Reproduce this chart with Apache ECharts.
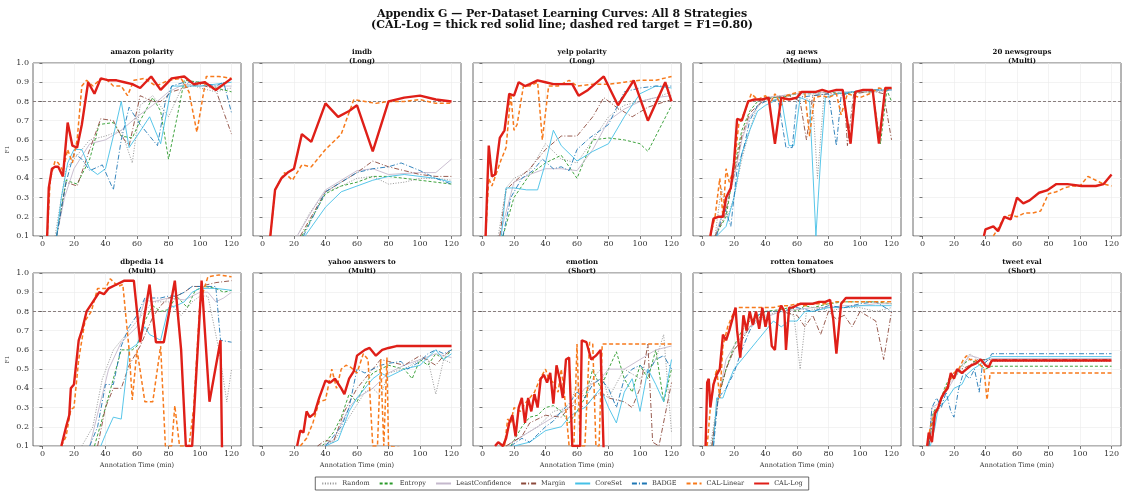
<!DOCTYPE html>
<html>
<head>
<meta charset="utf-8">
<script src="https://cdn.jsdelivr.net/npm/echarts@6/dist/echarts.min.js"></script>
<style>
  html, body { margin: 0; padding: 0; background: #fff; }
  #chart { width: 1124px; height: 492px; }
</style>
</head>
<body>
<div id="chart"></div>
<script>
// panels, left to right, top to bottom
var datasets = ['amazon polarity', 'imdb', 'yelp polarity', 'ag news', '20 newsgroups',
  'dbpedia 14', 'yahoo answers to', 'emotion', 'rotten tomatoes', 'tweet eval'];
var lengths = ['Long', 'Long', 'Long', 'Medium', 'Multi', 'Multi', 'Multi', 'Short', 'Short', 'Short'];
var xTicks = [0, 20, 40, 60, 80, 100, 120];
var target = 0.8;

// each curve is [minutes, F1], one list per panel
var randomCurves = [
  [[8,0.1],[12,0.3],[15,0.45],[20,0.5],[25,0.55],[30,0.6],[40,0.62],[50,0.65],[57,0.48],[62,0.78],[70,0.83],[80,0.72],[90,0.9],[100,0.87],[110,0.85],[120,0.87]],
  [[22,0.1],[30,0.22],[40,0.33],[50,0.36],[60,0.4],[70,0.41],[80,0.37],[90,0.38],[100,0.4],[110,0.4],[120,0.39]],
  [[10,0.1],[15,0.35],[20,0.4],[30,0.44],[40,0.58],[50,0.5],[60,0.48],[70,0.6],[80,0.72],[90,0.78],[100,0.8],[110,0.82],[120,0.85]],
  [[8,0.1],[12,0.35],[16,0.2],[20,0.3],[25,0.5],[30,0.65],[35,0.78],[40,0.82],[50,0.83],[60,0.84],[70,0.8],[73,0.4],[77,0.82],[85,0.84],[100,0.85],[110,0.85],[120,0.86]],
  [[0,0.02],[40,0.04],[80,0.06],[120,0.07]],
  [[25,0.1],[32,0.2],[38,0.45],[45,0.6],[52,0.67],[60,0.75],[70,0.85],[80,0.85],[88,0.78],[95,0.85],[100,0.88],[105,0.88],[112,0.6],[117,0.33],[120,0.5]],
  [[35,0.1],[45,0.12],[55,0.25],[65,0.38],[70,0.4],[75,0.36],[80,0.48],[90,0.5],[100,0.55],[105,0.55],[110,0.37],[115,0.55],[120,0.53]],
  [[15,0.1],[25,0.15],[35,0.2],[45,0.28],[55,0.3],[60,0.42],[65,0.35],[70,0.45],[75,0.5],[80,0.35],[90,0.5],[100,0.45],[110,0.55],[115,0.68],[120,0.17]],
  [[5,0.1],[10,0.35],[15,0.5],[20,0.6],[25,0.65],[30,0.72],[40,0.78],[50,0.8],[58,0.78],[62,0.5],[66,0.8],[75,0.82],[80,0.8],[90,0.82],[100,0.82],[110,0.8],[120,0.82]],
  [[4,0.1],[6,0.25],[8,0.3],[10,0.28],[13,0.35],[16,0.42],[20,0.45],[25,0.5],[30,0.58],[35,0.55],[40,0.52],[44,0.54],[120,0.54]]
];
var entropyCurves = [
  [[9,0.1],[15,0.39],[22,0.37],[30,0.5],[36,0.68],[45,0.69],[50,0.62],[57,0.61],[62,0.7],[70,0.82],[75,0.75],[80,0.5],[85,0.7],[90,0.91],[100,0.9],[110,0.87],[120,0.85]],
  [[25,0.1],[40,0.32],[50,0.36],[60,0.38],[70,0.41],[80,0.41],[100,0.39],[120,0.37]],
  [[13,0.1],[20,0.3],[30,0.42],[40,0.48],[50,0.52],[60,0.4],[70,0.6],[80,0.61],[90,0.6],[100,0.58],[105,0.54],[120,0.78]],
  [[8,0.1],[15,0.2],[20,0.45],[25,0.65],[30,0.75],[35,0.8],[40,0.82],[50,0.82],[60,0.84],[70,0.84],[80,0.85],[90,0.84],[100,0.85],[108,0.85],[113,0.58],[117,0.86],[120,0.8]],
  [[0,0.01],[40,0.03],[80,0.05],[120,0.06]],
  [[33,0.1],[40,0.3],[45,0.45],[50,0.6],[57,0.6],[60,0.62],[65,0.75],[70,0.83],[75,0.8],[80,0.81],[85,0.88],[92,0.82],[97,0.91],[103,0.93],[110,0.92],[115,0.9],[120,0.91]],
  [[38,0.1],[45,0.17],[50,0.25],[55,0.37],[60,0.33],[65,0.42],[70,0.48],[75,0.5],[80,0.52],[90,0.5],[95,0.45],[100,0.55],[105,0.52],[110,0.58],[115,0.55],[120,0.6]],
  [[18,0.1],[25,0.2],[30,0.25],[35,0.26],[40,0.3],[45,0.31],[50,0.28],[55,0.22],[60,0.28],[65,0.35],[70,0.5],[75,0.4],[80,0.5],[85,0.59],[90,0.45],[95,0.38],[100,0.52],[105,0.45],[110,0.6],[115,0.33],[120,0.5]],
  [[6,0.1],[10,0.35],[15,0.5],[20,0.62],[25,0.7],[30,0.75],[40,0.8],[50,0.81],[55,0.82],[60,0.8],[65,0.83],[70,0.82],[80,0.84],[90,0.85],[100,0.85],[110,0.85],[120,0.84]],
  [[4,0.1],[7,0.28],[10,0.3],[14,0.4],[18,0.47],[20,0.45],[25,0.52],[30,0.55],[35,0.53],[40,0.5],[44,0.515],[120,0.515]]
];
var leastConfCurves = [
  [[9,0.1],[14,0.3],[20,0.45],[30,0.58],[40,0.6],[50,0.65],[60,0.72],[70,0.78],[80,0.85],[90,0.89],[100,0.88],[110,0.88],[120,0.88]],
  [[22,0.1],[35,0.28],[40,0.34],[60,0.44],[70,0.45],[80,0.42],[100,0.43],[110,0.43],[120,0.5]],
  [[11,0.1],[20,0.38],[30,0.42],[40,0.45],[50,0.45],[60,0.44],[70,0.55],[80,0.7],[90,0.76],[100,0.8],[110,0.82],[120,0.83]],
  [[8,0.1],[14,0.25],[20,0.4],[25,0.6],[30,0.72],[40,0.82],[50,0.83],[60,0.84],[70,0.84],[80,0.85],[90,0.85],[100,0.85],[120,0.86]],
  [[0,0.02],[40,0.03],[80,0.05],[120,0.08]],
  [[30,0.1],[36,0.3],[42,0.5],[50,0.64],[60,0.72],[65,0.86],[70,0.85],[75,0.86],[80,0.87],[90,0.86],[100,0.9],[105,0.9],[110,0.85],[115,0.87],[120,0.9]],
  [[38,0.1],[45,0.13],[55,0.3],[60,0.35],[70,0.4],[80,0.48],[90,0.52],[100,0.55],[110,0.58],[120,0.56]],
  [[15,0.1],[25,0.15],[35,0.2],[45,0.25],[55,0.3],[65,0.4],[75,0.45],[80,0.5],[90,0.5],[100,0.55],[110,0.6],[120,0.62]],
  [[6,0.1],[10,0.35],[15,0.55],[20,0.62],[30,0.72],[40,0.77],[50,0.8],[60,0.81],[70,0.82],[80,0.82],[90,0.83],[100,0.83],[110,0.84],[120,0.84]],
  [[4,0.1],[6,0.3],[10,0.32],[15,0.38],[20,0.45],[25,0.52],[30,0.57],[35,0.56],[40,0.54],[44,0.555],[120,0.555]]
];
var marginCurves = [
  [[9,0.1],[15,0.38],[22,0.36],[30,0.55],[37,0.71],[45,0.7],[50,0.62],[55,0.57],[62,0.83],[70,0.8],[75,0.8],[82,0.85],[90,0.87],[100,0.89],[110,0.86],[120,0.63]],
  [[24,0.1],[40,0.33],[50,0.38],[60,0.43],[70,0.49],[80,0.46],[90,0.44],[100,0.42],[110,0.41],[120,0.41]],
  [[11,0.1],[15,0.34],[20,0.38],[30,0.45],[40,0.55],[50,0.62],[60,0.62],[70,0.72],[77,0.82],[85,0.77],[95,0.72],[105,0.77],[120,0.81]],
  [[8,0.1],[14,0.2],[20,0.42],[25,0.62],[30,0.74],[38,0.8],[45,0.82],[55,0.83],[62,0.8],[66,0.6],[70,0.83],[80,0.84],[90,0.84],[92,0.57],[96,0.84],[105,0.85],[110,0.85],[115,0.84],[120,0.6]],
  [[0,0.01],[40,0.02],[80,0.04],[120,0.06]],
  [[35,0.1],[40,0.3],[45,0.4],[50,0.4],[55,0.52],[62,0.62],[70,0.77],[75,0.83],[80,0.87],[85,0.88],[90,0.9],[95,0.93],[100,0.93],[110,0.95],[120,0.96]],
  [[35,0.1],[40,0.13],[45,0.12],[52,0.28],[60,0.4],[65,0.45],[70,0.5],[75,0.55],[80,0.54],[90,0.52],[100,0.57],[110,0.52],[115,0.57],[120,0.6]],
  [[15,0.1],[25,0.15],[30,0.22],[40,0.26],[50,0.25],[55,0.3],[60,0.32],[65,0.3],[70,0.35],[75,0.38],[80,0.35],[90,0.33],[95,0.3],[100,0.4],[105,0.63],[108,0.12],[112,0.1],[120,0.43]],
  [[6,0.1],[10,0.35],[15,0.5],[20,0.6],[25,0.65],[30,0.72],[40,0.8],[50,0.8],[60,0.78],[65,0.72],[70,0.78],[75,0.68],[80,0.8],[85,0.76],[90,0.78],[95,0.72],[100,0.8],[110,0.75],[115,0.55],[120,0.8]],
  [[4,0.1],[7,0.25],[10,0.3],[15,0.4],[20,0.48],[25,0.5],[30,0.52],[35,0.55],[40,0.55],[44,0.55],[120,0.55]]
];
var coresetCurves = [
  [[9,0.1],[12,0.3],[16,0.48],[20,0.55],[25,0.55],[30,0.45],[35,0.42],[40,0.45],[45,0.62],[50,0.8],[55,0.56],[60,0.62],[68,0.72],[75,0.58],[82,0.88],[90,0.88],[100,0.88],[110,0.89],[120,0.9]],
  [[27,0.1],[40,0.25],[50,0.33],[60,0.36],[70,0.39],[80,0.41],[90,0.42],[100,0.41],[110,0.4],[120,0.38]],
  [[12,0.1],[15,0.35],[20,0.35],[28,0.34],[35,0.34],[40,0.48],[45,0.65],[50,0.57],[60,0.49],[70,0.54],[80,0.58],[90,0.72],[100,0.84],[110,0.88],[120,0.87]],
  [[9,0.1],[15,0.15],[20,0.3],[25,0.53],[30,0.65],[35,0.75],[40,0.78],[45,0.8],[50,0.82],[55,0.57],[58,0.57],[62,0.82],[68,0.8],[72,0.1],[75,0.5],[78,0.82],[85,0.84],[95,0.85],[105,0.86],[120,0.86]],
  [[0,0.02],[40,0.02],[80,0.05],[120,0.07]],
  [[37,0.1],[40,0.16],[45,0.25],[50,0.24],[55,0.6],[60,0.63],[65,0.72],[68,0.68],[75,0.65],[80,0.82],[85,0.83],[90,0.85],[95,0.9],[100,0.92],[105,0.92],[110,0.92],[120,0.91]],
  [[40,0.1],[48,0.13],[55,0.28],[60,0.35],[65,0.4],[70,0.45],[75,0.48],[80,0.46],[90,0.5],[100,0.52],[110,0.6],[115,0.55],[120,0.58]],
  [[20,0.1],[30,0.12],[40,0.18],[50,0.2],[55,0.25],[60,0.28],[65,0.3],[70,0.35],[75,0.4],[80,0.3],[85,0.22],[90,0.38],[95,0.45],[100,0.28],[105,0.5],[110,0.42],[115,0.33],[120,0.55]],
  [[7,0.1],[9,0.35],[13,0.35],[16,0.42],[20,0.5],[25,0.55],[30,0.6],[35,0.65],[40,0.7],[45,0.75],[50,0.72],[55,0.75],[60,0.75],[65,0.8],[70,0.8],[80,0.82],[90,0.82],[100,0.83],[110,0.83],[120,0.83]],
  [[5,0.1],[8,0.2],[10,0.3],[13,0.32],[16,0.35],[20,0.4],[25,0.42],[28,0.47],[32,0.5],[36,0.52],[40,0.55],[44,0.565],[120,0.565]]
];
var badgeCurves = [
  [[9,0.1],[15,0.38],[20,0.53],[25,0.5],[30,0.44],[38,0.47],[45,0.34],[50,0.6],[55,0.77],[62,0.68],[68,0.62],[73,0.57],[78,0.8],[82,0.88],[90,0.9],[100,0.9],[110,0.88],[115,0.9],[120,0.74]],
  [[26,0.1],[40,0.33],[50,0.38],[60,0.43],[70,0.45],[80,0.46],[88,0.48],[100,0.44],[110,0.4],[120,0.37]],
  [[13,0.1],[18,0.3],[25,0.4],[32,0.44],[38,0.5],[45,0.45],[50,0.46],[55,0.44],[60,0.55],[68,0.61],[80,0.68],[90,0.85],[100,0.87],[110,0.88],[120,0.88]],
  [[9,0.1],[14,0.25],[18,0.15],[22,0.45],[26,0.55],[30,0.7],[35,0.78],[40,0.8],[48,0.81],[53,0.56],[57,0.56],[60,0.82],[70,0.83],[80,0.84],[85,0.57],[88,0.83],[95,0.85],[105,0.86],[120,0.86]],
  [[0,0.01],[40,0.03],[80,0.04],[120,0.05]],
  [[30,0.1],[35,0.2],[40,0.42],[45,0.42],[50,0.62],[55,0.72],[60,0.78],[65,0.87],[70,0.87],[75,0.87],[80,0.88],[85,0.88],[90,0.9],[95,0.93],[100,0.93],[105,0.93],[110,0.93],[113,0.65],[120,0.64]],
  [[40,0.1],[45,0.15],[50,0.2],[55,0.3],[60,0.5],[65,0.48],[70,0.5],[75,0.52],[80,0.53],[88,0.54],[92,0.5],[100,0.54],[105,0.58],[110,0.6],[115,0.58],[120,0.6]],
  [[18,0.1],[25,0.14],[30,0.12],[35,0.16],[40,0.2],[45,0.23],[50,0.28],[55,0.32],[60,0.38],[65,0.35],[70,0.42],[75,0.45],[80,0.4],[85,0.3],[90,0.45],[95,0.5],[100,0.52],[105,0.48],[110,0.55],[115,0.57],[120,0.5]],
  [[7,0.1],[10,0.35],[15,0.4],[20,0.48],[25,0.6],[30,0.7],[35,0.78],[40,0.8],[50,0.8],[60,0.82],[70,0.8],[80,0.83],[90,0.82],[100,0.84],[110,0.85],[120,0.8]],
  [[4,0.1],[6,0.3],[9,0.35],[12,0.3],[15,0.38],[18,0.28],[20,0.25],[23,0.4],[26,0.48],[30,0.45],[33,0.5],[36,0.38],[38,0.52],[42,0.55],[44,0.58],[120,0.58]]
];
var calLinearCurves = [
  [[3,0.1],[5,0.4],[8,0.49],[10,0.48],[13,0.44],[16,0.55],[19,0.48],[22,0.6],[25,0.88],[28,0.91],[32,0.88],[36,0.91],[40,0.92],[45,0.88],[50,0.88],[54,0.83],[58,0.91],[65,0.92],[72,0.88],[80,0.91],[88,0.92],[93,0.85],[98,0.64],[104,0.93],[112,0.93],[120,0.92]],
  [[5,0.1],[8,0.34],[14,0.43],[19,0.39],[25,0.47],[31,0.46],[40,0.55],[50,0.63],[58,0.81],[65,0.8],[72,0.79],[80,0.8],[90,0.8],[100,0.81],[110,0.79],[120,0.79]],
  [[2,0.1],[4,0.4],[6,0.36],[9,0.43],[12,0.5],[15,0.56],[18,0.84],[20,0.65],[22,0.68],[26,0.88],[30,0.88],[35,0.9],[38,0.6],[42,0.88],[48,0.88],[55,0.91],[60,0.88],[70,0.89],[80,0.89],[90,0.9],[100,0.91],[110,0.91],[120,0.93]],
  [[5,0.1],[8,0.2],[11,0.4],[13,0.2],[15,0.45],[17,0.38],[20,0.45],[23,0.68],[27,0.75],[31,0.84],[35,0.81],[40,0.83],[43,0.79],[46,0.84],[50,0.78],[53,0.83],[57,0.84],[62,0.85],[65,0.84],[68,0.62],[71,0.82],[76,0.83],[80,0.82],[85,0.84],[88,0.73],[92,0.84],[96,0.83],[100,0.82],[106,0.84],[112,0.87],[116,0.86],[120,0.87]],
  [[45,0.1],[48,0.14],[52,0.2],[56,0.21],[60,0.2],[65,0.22],[70,0.22],[75,0.23],[80,0.32],[85,0.33],[90,0.35],[95,0.36],[100,0.36],[105,0.41],[110,0.39],[115,0.37],[120,0.36]],
  [[12,0.1],[15,0.15],[18,0.29],[20,0.3],[23,0.55],[27,0.75],[31,0.8],[35,0.92],[40,0.92],[43,0.97],[48,0.93],[51,0.94],[55,0.6],[57,0.34],[60,0.6],[65,0.33],[70,0.33],[75,0.62],[78,0.1],[82,0.1],[84,0.31],[87,0.1],[93,0.1],[96,0.3],[100,0.85],[105,0.98],[112,0.99],[120,0.98]],
  [[24,0.1],[28,0.14],[32,0.22],[36,0.33],[40,0.34],[44,0.5],[47,0.4],[50,0.5],[53,0.52],[56,0.51],[60,0.48],[64,0.58],[67,0.55],[70,0.1],[73,0.1],[75,0.55],[77,0.1],[79,0.56],[80,0.1],[120,0.05]],
  [[14,0.1],[16,0.24],[18,0.22],[20,0.3],[24,0.28],[27,0.32],[30,0.35],[33,0.38],[36,0.44],[38,0.47],[40,0.5],[42,0.45],[45,0.43],[48,0.38],[50,0.5],[52,0.37],[55,0.1],[58,0.1],[60,0.63],[62,0.1],[65,0.1],[68,0.64],[70,0.63],[72,0.1],[74,0.1],[76,0.63],[80,0.63],[90,0.63],[100,0.63],[110,0.63],[120,0.63]],
  [[3,0.1],[5,0.3],[7,0.42],[9,0.5],[11,0.35],[13,0.62],[16,0.72],[19,0.78],[22,0.82],[25,0.82],[30,0.82],[35,0.82],[40,0.82],[45,0.82],[50,0.83],[55,0.83],[60,0.84],[65,0.83],[70,0.84],[75,0.84],[80,0.84],[85,0.85],[90,0.85],[100,0.85],[110,0.85],[120,0.85]],
  [[3,0.1],[5,0.2],[8,0.28],[10,0.3],[12,0.35],[15,0.4],[18,0.45],[20,0.48],[23,0.5],[26,0.55],[28,0.57],[30,0.55],[33,0.55],[36,0.53],[39,0.5],[41,0.34],[43,0.48],[44,0.48],[60,0.48],[80,0.48],[100,0.48],[120,0.48]]
];
var calLogCurves = [
  [[3,0.1],[4,0.35],[6,0.45],[8,0.46],[10,0.46],[13,0.41],[16,0.69],[19,0.57],[22,0.56],[25,0.68],[29,0.9],[33,0.84],[37,0.92],[42,0.91],[47,0.91],[52,0.9],[57,0.89],[62,0.87],[69,0.93],[75,0.86],[82,0.92],[90,0.93],[96,0.89],[103,0.9],[110,0.86],[120,0.92]],
  [[5,0.1],[8,0.34],[12,0.4],[16,0.43],[20,0.45],[25,0.63],[31,0.59],[40,0.79],[48,0.72],[55,0.75],[60,0.78],[70,0.54],[80,0.8],[90,0.82],[100,0.83],[110,0.81],[120,0.8]],
  [[2,0.1],[4,0.57],[6,0.41],[8,0.42],[11,0.61],[14,0.65],[17,0.84],[20,0.83],[23,0.9],[27,0.88],[30,0.89],[35,0.91],[40,0.9],[45,0.89],[52,0.89],[57,0.89],[61,0.83],[67,0.86],[77,0.93],[86,0.78],[96,0.91],[105,0.7],[116,0.9],[120,0.8]],
  [[5,0.1],[7,0.19],[10,0.2],[13,0.2],[15,0.3],[18,0.35],[20,0.48],[22,0.71],[25,0.7],[29,0.8],[33,0.81],[38,0.81],[42,0.82],[46,0.58],[50,0.82],[55,0.81],[60,0.82],[63,0.85],[67,0.85],[72,0.85],[76,0.86],[80,0.85],[85,0.86],[89,0.86],[94,0.58],[97,0.85],[102,0.86],[108,0.86],[112,0.58],[116,0.87],[120,0.87]],
  [[39,0.1],[40,0.135],[45,0.15],[48,0.125],[52,0.2],[56,0.186],[60,0.3],[64,0.27],[68,0.285],[74,0.325],[79,0.337],[85,0.37],[92,0.37],[101,0.36],[110,0.36],[115,0.37],[120,0.42]],
  [[12,0.1],[15,0.2],[17,0.26],[18,0.4],[20,0.42],[21,0.41],[23,0.65],[25,0.7],[28,0.8],[32,0.85],[36,0.9],[39,0.89],[42,0.92],[47,0.94],[52,0.96],[58,0.96],[62,0.64],[68,0.94],[72,0.64],[77,0.64],[84,0.96],[88,0.6],[91,0.1],[95,0.1],[101,0.96],[106,0.33],[113,0.65],[114,0.05]],
  [[22,0.1],[24,0.18],[26,0.17],[28,0.28],[30,0.25],[33,0.27],[36,0.35],[40,0.44],[43,0.43],[46,0.45],[50,0.4],[52,0.37],[55,0.45],[58,0.49],[60,0.57],[65,0.6],[68,0.61],[72,0.57],[76,0.6],[80,0.61],[85,0.62],[90,0.62],[100,0.62],[110,0.62],[120,0.62]],
  [[8,0.1],[10,0.12],[13,0.1],[15,0.14],[17,0.22],[19,0.26],[21,0.15],[23,0.3],[25,0.35],[27,0.22],[29,0.35],[31,0.28],[33,0.37],[35,0.3],[37,0.45],[39,0.47],[41,0.43],[43,0.48],[45,0.32],[47,0.52],[49,0.45],[51,0.35],[53,0.55],[55,0.56],[57,0.1],[62,0.1],[63,0.65],[66,0.64],[69,0.55],[72,0.57],[75,0.6],[77,0.05]],
  [[2,0.1],[3,0.43],[4,0.45],[5,0.3],[7,0.42],[9,0.47],[11,0.5],[13,0.68],[15,0.65],[17,0.7],[19,0.76],[21,0.82],[22,0.7],[24,0.56],[26,0.78],[28,0.7],[30,0.8],[32,0.73],[34,0.8],[36,0.71],[38,0.82],[40,0.72],[42,0.8],[44,0.62],[46,0.6],[48,0.79],[50,0.83],[52,0.8],[53,0.6],[55,0.82],[57,0.82],[62,0.84],[66,0.84],[70,0.84],[74,0.85],[78,0.85],[81,0.86],[83,0.76],[85,0.58],[88,0.84],[91,0.87],[100,0.87],[110,0.87],[120,0.87]],
  [[3,0.1],[4,0.17],[6,0.12],[8,0.27],[10,0.3],[12,0.35],[14,0.38],[16,0.4],[18,0.48],[20,0.45],[22,0.5],[25,0.48],[28,0.5],[31,0.52],[34,0.53],[37,0.55],[40,0.52],[42,0.51],[44,0.545],[60,0.545],[80,0.545],[100,0.545],[120,0.545]]
];

var strategies = [
  {name: 'Random', curves: randomCurves, color: '#8a8a8a', width: 0.9, type: [1, 1.6]},
  {name: 'Entropy', curves: entropyCurves, color: '#2a9a2a', width: 0.9, type: [3, 2]},
  {name: 'LeastConfidence', curves: leastConfCurves, color: '#c4b8cc', width: 0.9, type: 'solid'},
  {name: 'Margin', curves: marginCurves, color: '#8c4a3c', width: 0.9, type: [5, 2, 1, 2]},
  {name: 'CoreSet', curves: coresetCurves, color: '#45c0e6', width: 0.9, type: 'solid'},
  {name: 'BADGE', curves: badgeCurves, color: '#1f77b4', width: 0.9, type: [5, 2, 1, 2]},
  {name: 'CAL-Linear', curves: calLinearCurves, color: '#f77a1c', width: 1.5, type: [4, 2.5]},
  {name: 'CAL-Log', curves: calLogCurves, color: '#df1f18', width: 2.4, type: 'solid'}
];

var font = 'DejaVu Serif';
var lefts = [33, 253, 473, 693, 913];
var tops = [63, 273];
var pw = 208, ph = 173;

var grids = [], xAxes = [], yAxes = [], titles = [], series = [];
titles.push({
  text: 'Appendix G \u2014 Per-Dataset Learning Curves: All 8 Strategies\n(CAL-Log = thick red solid line; dashed red target = F1=0.80)',
  left: 'center', top: 3,
  textStyle: {fontFamily: font, fontSize: 11, fontWeight: 'bold', color: '#111', lineHeight: 11.5}
});

datasets.forEach(function (d, i) {
  var col = i % 5, row = Math.floor(i / 5);
  grids.push({left: lefts[col], top: tops[row], width: pw, height: ph,
    show: true, borderColor: '#444', borderWidth: 0.8, backgroundColor: '#fff'});
  titles.push({
    text: d + '\n(' + lengths[i] + ')',
    left: lefts[col] + pw / 2, top: tops[row] - 20, textAlign: 'center',
    textStyle: {fontFamily: font, fontSize: 7, fontWeight: 'bold', color: '#111', lineHeight: 8.5}
  });
  xAxes.push({
    type: 'value', gridIndex: i, min: -6, max: 126,
    name: row === 1 ? 'Annotation Time (min)' : '',
    nameLocation: 'middle', nameGap: 16,
    nameTextStyle: {fontFamily: font, fontSize: 6.5, color: '#333'},
    axisLine: {show: false},
    axisTick: {show: true, length: 3, lineStyle: {color: '#444', width: 0.7}, customValues: xTicks},
    axisLabel: {fontFamily: font, fontSize: 8, color: '#333', margin: 4, customValues: xTicks},
    splitLine: {show: true, lineStyle: {color: '#ebebeb', width: 0.6}}
  });
  yAxes.push({
    type: 'value', gridIndex: i, min: 0.1, max: 1.0, interval: 0.1,
    name: col === 0 ? 'F1' : '',
    nameLocation: 'middle', nameGap: 22,
    nameTextStyle: {fontFamily: font, fontSize: 5.5, color: '#333'},
    axisLine: {show: false},
    axisTick: {show: true, length: 3, lineStyle: {color: '#444', width: 0.7}},
    axisLabel: {show: col === 0, fontFamily: font, fontSize: 8, color: '#333', margin: 4,
      formatter: function (v) { return v.toFixed(1); }},
    splitLine: {show: true, lineStyle: {color: '#ebebeb', width: 0.6}}
  });
});

strategies.forEach(function (s, k) {
  datasets.forEach(function (d, i) {
    var item = {
      name: s.name, type: 'line', xAxisIndex: i, yAxisIndex: i,
      data: s.curves[i], symbol: 'none', silent: true, animation: false,
      z: 2 + k,
      lineStyle: {color: s.color, width: s.width, type: s.type},
      itemStyle: {color: s.color}
    };
    if (s.name === 'CAL-Log') {
      item.markLine = {
        silent: true, symbol: 'none', label: {show: false}, animation: false,
        lineStyle: {color: '#5a4a4a', width: 0.7, type: [3, 2]},
        data: [{yAxis: target}]
      };
    }
    series.push(item);
  });
});

var chart = echarts.init(document.getElementById('chart'));
chart.setOption({
  backgroundColor: '#fff',
  animation: false,
  title: titles,
  grid: grids,
  xAxis: xAxes,
  yAxis: yAxes,
  legend: {
    data: strategies.map(function (s) { return s.name; }),
    left: 'center', bottom: 2,
    orient: 'horizontal',
    itemWidth: 15, itemHeight: 6, itemGap: 9,
    itemStyle: {opacity: 0},
    padding: [3, 6],
    borderColor: '#444', borderWidth: 0.8,
    textStyle: {fontFamily: font, fontSize: 6.5, color: '#333'}
  },
  series: series
});
</script>
</body>
</html>
